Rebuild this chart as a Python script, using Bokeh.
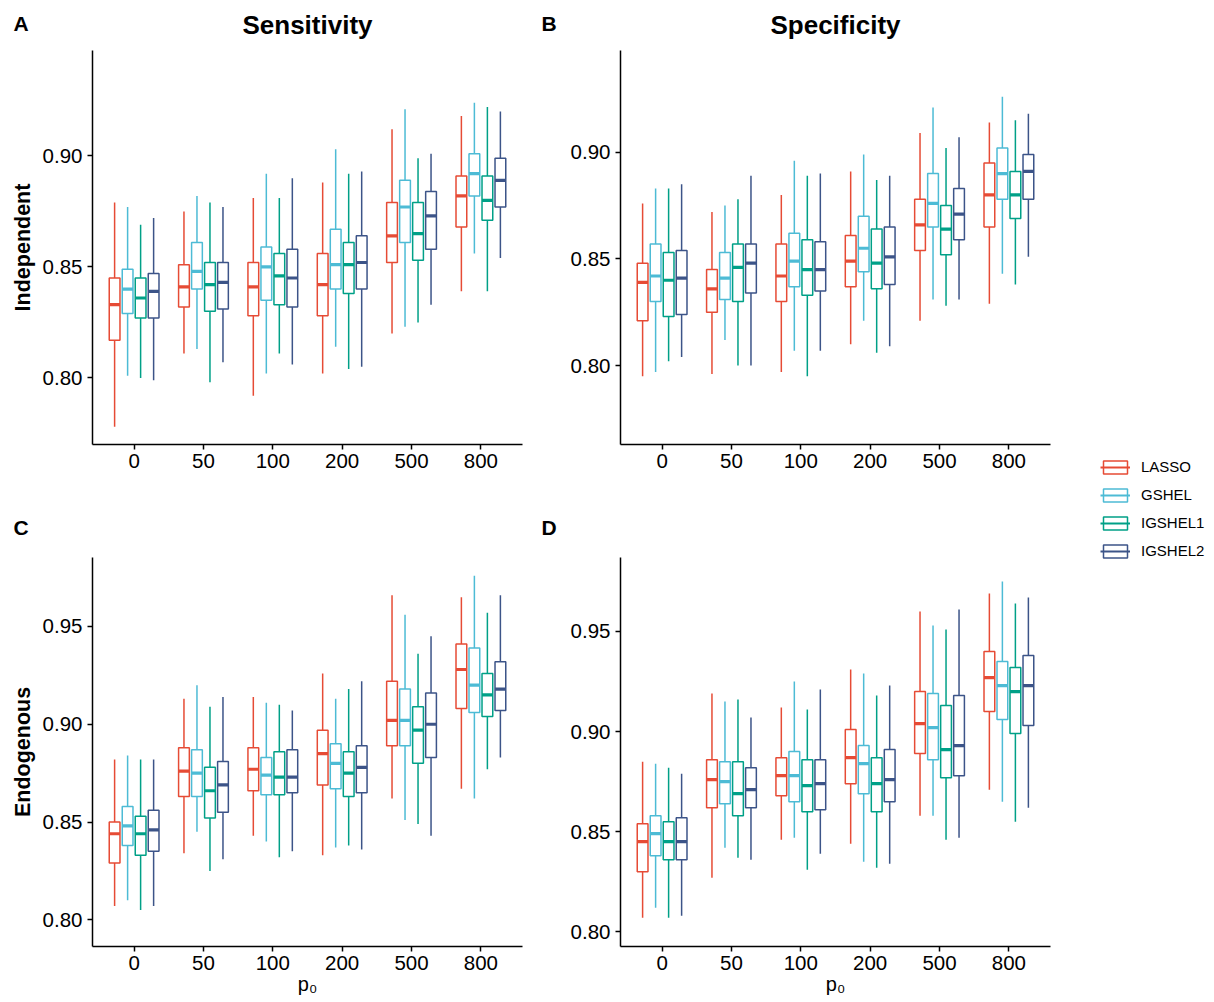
import math
from bokeh.plotting import figure
from bokeh.models import (ColumnDataSource, FixedTicker, Range1d, Label, Legend,
                          LegendItem, PrintfTickFormatter)
from bokeh.layouts import row, column
from bokeh.transform import dodge
from bokeh.embed import file_html
from bokeh.resources import INLINE

FONT = "Liberation Sans"

categories = ["0", "50", "100", "200", "500", "800"]
methods = ["LASSO", "GSHEL", "IGSHEL1", "IGSHEL2"]
colors = ["#E64B35", "#4DBBD5", "#00A087", "#3C5488"]

# each entry: (lower whisker, Q1, median, Q3, upper whisker) per p0 category
# Panel A: Sensitivity, Independent
sens_ind_LASSO = [(0.778, 0.817, 0.833, 0.845, 0.879), (0.811, 0.832, 0.841, 0.851, 0.875),
                  (0.792, 0.828, 0.841, 0.852, 0.881), (0.802, 0.828, 0.842, 0.856, 0.888),
                  (0.820, 0.852, 0.864, 0.879, 0.912), (0.839, 0.868, 0.882, 0.891, 0.918)]
sens_ind_GSHEL = [(0.801, 0.829, 0.840, 0.849, 0.877), (0.813, 0.840, 0.848, 0.861, 0.882),
                  (0.802, 0.835, 0.850, 0.859, 0.892), (0.814, 0.840, 0.851, 0.867, 0.903),
                  (0.823, 0.861, 0.877, 0.889, 0.921), (0.856, 0.882, 0.892, 0.901, 0.924)]
sens_ind_IGSHEL1 = [(0.800, 0.827, 0.836, 0.845, 0.869), (0.798, 0.830, 0.842, 0.852, 0.879),
                    (0.811, 0.833, 0.846, 0.856, 0.881), (0.804, 0.838, 0.851, 0.861, 0.892),
                    (0.825, 0.853, 0.865, 0.879, 0.899), (0.839, 0.871, 0.880, 0.891, 0.922)]
sens_ind_IGSHEL2 = [(0.799, 0.827, 0.839, 0.847, 0.872), (0.807, 0.831, 0.843, 0.852, 0.877),
                    (0.806, 0.832, 0.845, 0.858, 0.890), (0.805, 0.840, 0.852, 0.864, 0.893),
                    (0.833, 0.858, 0.873, 0.884, 0.901), (0.854, 0.877, 0.889, 0.899, 0.920)]

# Panel B: Specificity, Independent
spec_ind_LASSO = [(0.795, 0.821, 0.839, 0.848, 0.876), (0.796, 0.825, 0.836, 0.845, 0.872),
                  (0.797, 0.830, 0.842, 0.857, 0.880), (0.810, 0.837, 0.849, 0.861, 0.891),
                  (0.821, 0.854, 0.866, 0.878, 0.909), (0.829, 0.865, 0.880, 0.895, 0.914)]
spec_ind_GSHEL = [(0.797, 0.830, 0.842, 0.857, 0.883), (0.812, 0.831, 0.841, 0.853, 0.875),
                  (0.807, 0.837, 0.849, 0.862, 0.896), (0.821, 0.844, 0.855, 0.870, 0.899),
                  (0.831, 0.865, 0.876, 0.890, 0.921), (0.843, 0.878, 0.890, 0.902, 0.926)]
spec_ind_IGSHEL1 = [(0.802, 0.823, 0.840, 0.853, 0.883), (0.800, 0.830, 0.846, 0.857, 0.878),
                    (0.795, 0.833, 0.845, 0.859, 0.889), (0.806, 0.836, 0.848, 0.864, 0.887),
                    (0.828, 0.852, 0.864, 0.875, 0.902), (0.838, 0.869, 0.880, 0.891, 0.915)]
spec_ind_IGSHEL2 = [(0.804, 0.824, 0.841, 0.854, 0.885), (0.800, 0.834, 0.848, 0.857, 0.889),
                    (0.807, 0.835, 0.845, 0.858, 0.890), (0.809, 0.838, 0.851, 0.865, 0.889),
                    (0.831, 0.859, 0.871, 0.883, 0.907), (0.851, 0.878, 0.891, 0.899, 0.918)]

# Panel C: Sensitivity, Endogenous
sens_endo_LASSO = [(0.807, 0.829, 0.844, 0.850, 0.882), (0.834, 0.863, 0.876, 0.888, 0.913),
                   (0.843, 0.866, 0.877, 0.888, 0.914), (0.833, 0.869, 0.885, 0.897, 0.926),
                   (0.862, 0.889, 0.902, 0.922, 0.966), (0.867, 0.908, 0.928, 0.941, 0.965)]
sens_endo_GSHEL = [(0.810, 0.838, 0.848, 0.858, 0.884), (0.845, 0.863, 0.875, 0.887, 0.920),
                   (0.840, 0.864, 0.874, 0.883, 0.911), (0.837, 0.867, 0.880, 0.890, 0.913),
                   (0.851, 0.889, 0.902, 0.918, 0.956), (0.862, 0.906, 0.920, 0.939, 0.976)]
sens_endo_IGSHEL1 = [(0.805, 0.833, 0.844, 0.853, 0.882), (0.825, 0.852, 0.866, 0.878, 0.909),
                     (0.832, 0.864, 0.873, 0.886, 0.910), (0.838, 0.863, 0.875, 0.886, 0.918),
                     (0.849, 0.880, 0.897, 0.909, 0.936), (0.877, 0.904, 0.915, 0.926, 0.957)]
sens_endo_IGSHEL2 = [(0.807, 0.835, 0.846, 0.856, 0.882), (0.831, 0.855, 0.869, 0.881, 0.914),
                     (0.835, 0.865, 0.873, 0.887, 0.907), (0.836, 0.865, 0.878, 0.889, 0.922),
                     (0.843, 0.883, 0.900, 0.916, 0.945), (0.883, 0.907, 0.918, 0.932, 0.966)]

# Panel D: Specificity, Endogenous
spec_endo_LASSO = [(0.807, 0.830, 0.845, 0.854, 0.885), (0.827, 0.862, 0.876, 0.886, 0.919),
                   (0.846, 0.868, 0.878, 0.887, 0.912), (0.844, 0.874, 0.887, 0.901, 0.931),
                   (0.858, 0.889, 0.904, 0.920, 0.960), (0.871, 0.910, 0.927, 0.940, 0.969)]
spec_endo_GSHEL = [(0.812, 0.838, 0.849, 0.858, 0.884), (0.842, 0.864, 0.875, 0.885, 0.915),
                   (0.847, 0.865, 0.878, 0.890, 0.925), (0.835, 0.869, 0.884, 0.893, 0.929),
                   (0.858, 0.886, 0.902, 0.919, 0.953), (0.865, 0.906, 0.923, 0.935, 0.975)]
spec_endo_IGSHEL1 = [(0.807, 0.836, 0.845, 0.855, 0.882), (0.837, 0.858, 0.869, 0.885, 0.916),
                     (0.831, 0.860, 0.873, 0.886, 0.911), (0.832, 0.860, 0.874, 0.887, 0.918),
                     (0.846, 0.877, 0.891, 0.913, 0.951), (0.855, 0.899, 0.920, 0.932, 0.964)]
spec_endo_IGSHEL2 = [(0.808, 0.836, 0.845, 0.857, 0.879), (0.836, 0.862, 0.871, 0.882, 0.907),
                     (0.839, 0.861, 0.874, 0.886, 0.921), (0.834, 0.865, 0.876, 0.891, 0.923),
                     (0.847, 0.878, 0.893, 0.918, 0.961), (0.862, 0.903, 0.923, 0.938, 0.967)]

y_ticks_top = [0.80, 0.85, 0.90]
y_ticks_bottom = [0.80, 0.85, 0.90, 0.95]
col_titles = ["Sensitivity", "Specificity"]
row_titles = ["Independent", "Endogenous"]
panel_letters = ["A", "B", "C", "D"]
x_title = "p\u2080"

OFFSETS = [-0.28125, -0.09375, 0.09375, 0.28125]
BOX_W = 0.155


def make_panel(series, y_range, y_ticks, ylabel=None, xlabel=None, top_row=True, left_col=True):
    fh = 394 if top_row else 389
    p = figure(frame_width=430, frame_height=fh,
               min_border_left=92 if left_col else 85,
               min_border_right=13 if left_col else 20,
               min_border_top=0,
               min_border_bottom=61 if top_row else 52,
               x_range=Range1d(0.4, 6.6), y_range=Range1d(*y_range),
               output_backend="svg", toolbar_location=None)
    p.background_fill_color = "white"
    p.border_fill_color = "white"
    p.outline_line_color = None
    p.xgrid.visible = False
    p.ygrid.visible = False

    positions = list(range(1, len(categories) + 1))
    p.xaxis.ticker = FixedTicker(ticks=positions)
    p.xaxis.major_label_overrides = {pos: cat for pos, cat in zip(positions, categories)}
    p.yaxis.ticker = FixedTicker(ticks=y_ticks)
    p.yaxis.formatter = PrintfTickFormatter(format="%.2f")

    for ax in (p.xaxis[0], p.yaxis[0]):
        ax.axis_line_color = "black"
        ax.axis_line_width = 1.5
        ax.major_tick_line_color = "black"
        ax.major_tick_line_width = 1.5
        ax.major_tick_in = 0
        ax.major_tick_out = 5
        ax.minor_tick_line_color = None
        ax.major_label_text_font = FONT
        ax.major_label_text_font_size = "20.5px"
        ax.major_label_text_color = "black"
        ax.major_label_standoff = 4
        ax.axis_label_text_color = "black"
        ax.axis_label_text_font = FONT
    p.yaxis.major_label_standoff = 5

    if ylabel:
        p.yaxis.axis_label = ylabel
        p.yaxis.axis_label_text_font_size = "21.5px"
        p.yaxis.axis_label_text_font_style = "bold"
        p.yaxis.axis_label_standoff = 5
    if xlabel:
        p.xaxis.axis_label = xlabel
        p.xaxis.axis_label_text_font_size = "20px"
        p.xaxis.axis_label_text_font_style = "normal"
        p.xaxis.axis_label_standoff = 0

    for k, (m, c) in enumerate(zip(methods, colors)):
        stats = series[m]
        src = ColumnDataSource(dict(
            x=positions,
            lo=[s[0] for s in stats], q1=[s[1] for s in stats], med=[s[2] for s in stats],
            q3=[s[3] for s in stats], hi=[s[4] for s in stats]))
        off = OFFSETS[k]
        p.segment(x0=dodge("x", off), x1=dodge("x", off), y0="q3", y1="hi", source=src,
                  line_color=c, line_width=1.5)
        p.segment(x0=dodge("x", off), x1=dodge("x", off), y0="lo", y1="q1", source=src,
                  line_color=c, line_width=1.5)
        p.vbar(x=dodge("x", off), width=BOX_W, bottom="q1", top="q3", source=src,
               fill_color="white", line_color=c, line_width=1.5)
        p.segment(x0=dodge("x", off - BOX_W / 2), x1=dodge("x", off + BOX_W / 2),
                  y0="med", y1="med", source=src, line_color=c, line_width=3.2)
    return p


def text_band(height, items):
    """A band without axes holding panel letters / column titles (screen units)."""
    b = figure(width=1070, height=height, min_border=0, x_range=Range1d(0, 1),
               y_range=Range1d(0, 1), x_axis_location=None, y_axis_location=None,
               output_backend="svg", toolbar_location=None)
    b.outline_line_color = None
    b.xgrid.visible = False
    b.ygrid.visible = False
    b.background_fill_color = "white"
    b.border_fill_color = "white"
    for (txt, x, y, size, align) in items:
        b.add_layout(Label(x=x, y=y, x_units="screen", y_units="screen", text=txt,
                           text_font=FONT, text_font_size=size, text_font_style="bold",
                           text_color="black", text_baseline="alphabetic", text_align=align))
    return b


header = text_band(50, [(panel_letters[0], 13, 27.5, "21px", "left"),
                        (col_titles[0], 307, 26, "26px", "center"),
                        (panel_letters[1], 541, 27.5, "21px", "left"),
                        (col_titles[1], 835, 26, "26px", "center")])
band = text_band(52, [(panel_letters[2], 13, 30.5, "21px", "left"),
                      (panel_letters[3], 541, 30.5, "21px", "left")])

pA = make_panel(dict(LASSO=sens_ind_LASSO, GSHEL=sens_ind_GSHEL, IGSHEL1=sens_ind_IGSHEL1,
                     IGSHEL2=sens_ind_IGSHEL2),
                (0.770, 0.9475), y_ticks_top, ylabel=row_titles[0], top_row=True, left_col=True)
pB = make_panel(dict(LASSO=spec_ind_LASSO, GSHEL=spec_ind_GSHEL, IGSHEL1=spec_ind_IGSHEL1,
                     IGSHEL2=spec_ind_IGSHEL2),
                (0.763, 0.9477), y_ticks_top, top_row=True, left_col=False)
pC = make_panel(dict(LASSO=sens_endo_LASSO, GSHEL=sens_endo_GSHEL, IGSHEL1=sens_endo_IGSHEL1,
                     IGSHEL2=sens_endo_IGSHEL2),
                (0.78635, 0.98528), y_ticks_bottom, ylabel=row_titles[1], xlabel=x_title,
                top_row=False, left_col=True)
pD = make_panel(dict(LASSO=spec_endo_LASSO, GSHEL=spec_endo_GSHEL, IGSHEL1=spec_endo_IGSHEL1,
                     IGSHEL2=spec_endo_IGSHEL2),
                (0.79266, 0.98696), y_ticks_bottom, xlabel=x_title,
                top_row=False, left_col=False)

# legend panel
pL = figure(width=136, height=1000, min_border=0, x_range=Range1d(0, 1), y_range=Range1d(0, 1),
            x_axis_location=None, y_axis_location=None,
            output_backend="svg", toolbar_location=None)
pL.outline_line_color = None
pL.xgrid.visible = False
pL.ygrid.visible = False
items = []
nan = float("nan")
for m, c in zip(methods, colors):
    empty = ColumnDataSource(dict(x=[nan], b=[nan], t=[nan], x0=[nan], x1=[nan], y=[nan]))
    rb = pL.vbar(x="x", width=0.1, bottom="b", top="t", source=empty,
                 fill_color="white", line_color=c, line_width=1.5)
    rm = pL.segment(x0="x0", x1="x1", y0="y", y1="y", source=empty, line_color=c, line_width=2)
    items.append(LegendItem(label=m, renderers=[rb, rm]))
legend = Legend(items=items, location=(30, 441), glyph_width=30, glyph_height=16,
                label_height=16, spacing=11, padding=0, margin=0, label_standoff=11,
                label_text_font=FONT, label_text_font_size="15px", label_text_color="black",
                border_line_color=None, background_fill_alpha=0)
pL.add_layout(legend)

layout = row(column(header, row(pA, pB), band, row(pC, pD)), pL)

with open("out.html", "w") as f:
    f.write(file_html(layout, INLINE, title="Sensitivity and Specificity"))
